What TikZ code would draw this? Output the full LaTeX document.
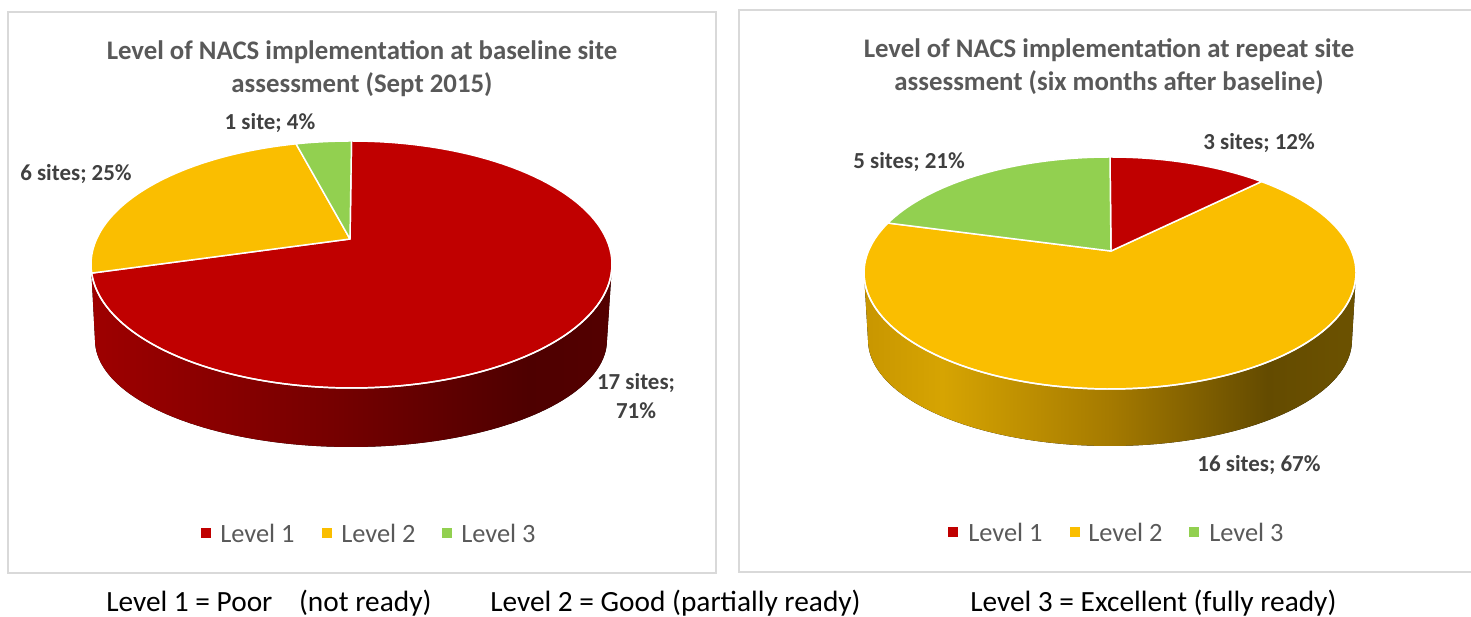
\documentclass[tikz,border=0pt]{standalone}
\usepackage{fontspec}
\setmainfont{Carlito}

% slice colours
\definecolor{lvlone}{RGB}{192,0,0}
\definecolor{lvltwo}{RGB}{250,190,0}
\definecolor{lvlthree}{RGB}{146,208,80}
\definecolor{titlegray}{RGB}{89,89,89}
\definecolor{labelgray}{RGB}{64,64,64}
\definecolor{framegray}{RGB}{217,217,217}

% side wall colours, red cylinder
\definecolor{rwA}{RGB}{158,0,0}
\definecolor{rwB}{RGB}{118,0,0}
\definecolor{rwC}{RGB}{78,0,0}
\definecolor{rwD}{RGB}{84,0,0}
% side wall colours, gold cylinder
\definecolor{ywA}{RGB}{200,150,0}
\definecolor{ywB}{RGB}{214,164,2}
\definecolor{ywC}{RGB}{165,122,0}
\definecolor{ywD}{RGB}{100,75,0}
\definecolor{ywE}{RGB}{108,82,0}

\pgfdeclarehorizontalshading{redwall}{100bp}{color(0bp)=(rwA); color(25bp)=(rwA); color(48bp)=(rwB); color(67bp)=(rwC); color(75bp)=(rwD); color(100bp)=(rwD)}
\pgfdeclarehorizontalshading{goldwall}{100bp}{color(0bp)=(ywA); color(25bp)=(ywA); color(33bp)=(ywB); color(50bp)=(ywC); color(66bp)=(ywD); color(75bp)=(ywE); color(100bp)=(ywE)}

\tikzset{
  frame/.style={draw=framegray, line width=1.1pt},
  slice/.style={draw=white, line width=1.1pt, line join=round},
  rim/.style={draw=white, line width=1.1pt},
  charttitle/.style={text=titlegray, align=center, font=\bfseries\fontsize{20.1}{24.5}\selectfont},
  datalabel/.style={text=labelgray, align=center, font=\bfseries\fontsize{17.2}{21.5}\selectfont},
  legtext/.style={text=titlegray, anchor=west, inner sep=0pt, font=\fontsize{19.8}{23}\selectfont},
  legsq/.style={minimum size=6.8pt, inner sep=0pt, draw=none},
  note/.style={text=black, anchor=west, inner sep=0pt, font=\fontsize{22}{26}\selectfont}
}

\begin{document}
\begin{tikzpicture}[x=0.75pt, y=-0.75pt]
\useasboundingbox (0,0) rectangle (1471,617);

% ---------- panel frames ----------
\draw[frame] (8,12) rectangle (716,573);
\draw[frame] (1480,10) -- (739,10) -- (739,572) -- (1480,572);

% ---------- baseline chart ----------
\node[charttitle] (titleA) at (362,68.5) {Level of NACS implementation at baseline site\\assessment (Sept 2015)};

% side wall
\fill[shading=redwall]
  plot[domain=0:180, samples=90, variable=\t] ({351.5+260.5*cos(\t)}, {264.5+123.5*sin(\t)})
  -- plot[domain=180:0, samples=90, variable=\t] ({351+256*cos(\t)}, {340+107*sin(\t)})
  -- cycle;
% top face
\filldraw[slice, fill=lvlone] (350,239)
  -- plot[domain=270:536, samples=120, variable=\t] ({351.5+260.5*cos(\t)}, {264.5+123.5*sin(\t)}) -- cycle;
\filldraw[slice, fill=lvltwo] (350,239)
  -- plot[domain=176:257.7, samples=50, variable=\t] ({351.5+260.5*cos(\t)}, {264.5+123.5*sin(\t)}) -- cycle;
\filldraw[slice, fill=lvlthree] (350,239)
  -- plot[domain=257.7:270, samples=12, variable=\t] ({351.5+260.5*cos(\t)}, {264.5+123.5*sin(\t)}) -- cycle;
\draw[rim] plot[domain=0:180, samples=90, variable=\t] ({351.5+260.5*cos(\t)}, {264.5+123.5*sin(\t)});

\node[datalabel] (dA3) at (270,123) {1 site; 4\%};
\node[datalabel] (dA2) at (76,174) {6 sites; 25\%};
\node[datalabel] (dA1) at (636,396) {17 sites;\\71\%};

\node[legsq, fill=lvlone] (sqA1) at (206,533) {};
\node[legtext] (lgA1) at (220,533) {Level 1};
\node[legsq, fill=lvltwo] (sqA2) at (327,533) {};
\node[legtext] (lgA2) at (341,533) {Level 2};
\node[legsq, fill=lvlthree] (sqA3) at (447,533) {};
\node[legtext] (lgA3) at (461,533) {Level 3};

% ---------- repeat chart ----------
\node[charttitle] (titleB) at (1109,66.5) {Level of NACS implementation at repeat site\\assessment (six months after baseline)};

% side wall
\fill[shading=goldwall]
  plot[domain=0:180, samples=90, variable=\t] ({1110+246*cos(\t)}, {273+116*sin(\t)})
  -- plot[domain=180:0, samples=90, variable=\t] ({1110+242*cos(\t)}, {340+106*sin(\t)})
  -- cycle;
% top face
\filldraw[slice, fill=lvltwo] (1111,251)
  -- plot[domain=308:565.5, samples=120, variable=\t] ({1110+246*cos(\t)}, {273+116*sin(\t)}) -- cycle;
\filldraw[slice, fill=lvlone] (1111,251)
  -- plot[domain=270:308, samples=30, variable=\t] ({1110+246*cos(\t)}, {273+116*sin(\t)}) -- cycle;
\filldraw[slice, fill=lvlthree] (1111,251)
  -- plot[domain=205.5:270, samples=40, variable=\t] ({1110+246*cos(\t)}, {273+116*sin(\t)}) -- cycle;
\draw[rim] plot[domain=0:180, samples=90, variable=\t] ({1110+246*cos(\t)}, {273+116*sin(\t)});

\node[datalabel] (dB1) at (1259,143) {3 sites; 12\%};
\node[datalabel] (dB3) at (909,162) {5 sites; 21\%};
\node[datalabel] (dB2) at (1259,465) {16 sites; 67\%};

\node[legsq, fill=lvlone] (sqB1) at (953,532) {};
\node[legtext] (lgB1) at (968,532) {Level 1};
\node[legsq, fill=lvltwo] (sqB2) at (1075,532) {};
\node[legtext] (lgB2) at (1088,532) {Level 2};
\node[legsq, fill=lvlthree] (sqB3) at (1194,532) {};
\node[legtext] (lgB3) at (1209,532) {Level 3};

% ---------- level key ----------
\node[note] (key1) at (106,603) {Level 1 = Poor\hspace{20pt}(not ready)};
\node[note] (key2) at (490,603) {Level 2 = Good (partially ready)};
\node[note] (key3) at (970,603) {Level 3 = Excellent (fully ready)};
\end{tikzpicture}
\end{document}
